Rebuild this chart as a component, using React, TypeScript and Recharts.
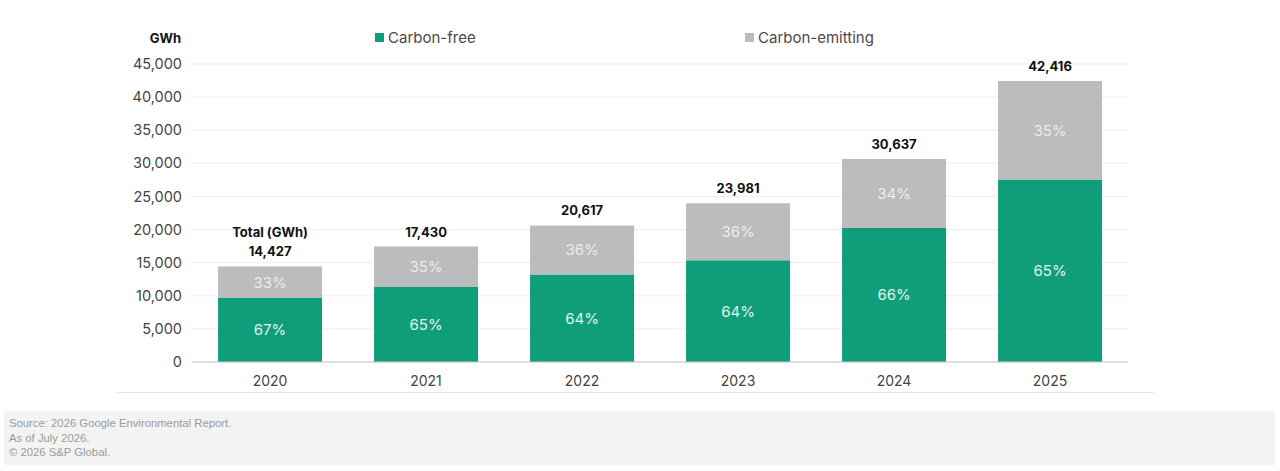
import React from 'react';
import { Bar, BarChart, CartesianGrid, Label, LabelList, Legend, XAxis, YAxis } from 'recharts';

// values (GWh)
const years = ['2020', '2021', '2022', '2023', '2024', '2025'];
const carbonFree = [9666, 11330, 13195, 15348, 20220, 27570];
const carbonEmitting = [4761, 6100, 7422, 8633, 10417, 14846];
const totals = [14427, 17430, 20617, 23981, 30637, 42416];
const freeShare = ['67%', '65%', '64%', '64%', '66%', '65%'];
const emitShare = ['33%', '35%', '36%', '36%', '34%', '35%'];
const yTicks = [0, 5000, 10000, 15000, 20000, 25000, 30000, 35000, 40000, 45000];
const sourceLines = ['Source: 2026 Google Environmental Report.', 'As of July 2026.', '\u00A9 2026 S&P Global.'];

const GREEN = '#0f9e79';
const GREY = '#bbbcbd';
const FONT = 'Inter, "Noto Sans", sans-serif';

const data = years.map((year, i) => ({
  year,
  free: carbonFree[i],
  emitting: carbonEmitting[i],
  total: totals[i],
  freePct: freeShare[i],
  emitPct: emitShare[i],
}));

const fmt = (v: number) => v.toLocaleString('en-US');

// total above each stacked bar, plus the "Total (GWh)" caption on the first one
const renderTotal = (props: any) => {
  const { x, y, width, value, index } = props;
  const cx = Number(x) + Number(width) / 2;
  return (
    <g>
      {index === 0 && (
        <text x={cx} y={Number(y) - 29} textAnchor="middle" fontSize={13} fontWeight={700} fill="#111" fontFamily={FONT}>
          Total (GWh)
        </text>
      )}
      <text x={cx} y={Number(y) - 10} textAnchor="middle" fontSize={13} fontWeight={700} fill="#111" fontFamily={FONT}>
        {fmt(Number(value))}
      </text>
    </g>
  );
};

// legend item order and left edge, by series key
const legendOrder = ['free', 'emitting'];
const legendPos = [375, 745];

const renderLegend = (props: any) => {
  const payload = [...(props.payload || [])].sort(
    (a: any, b: any) => legendOrder.indexOf(a.dataKey) - legendOrder.indexOf(b.dataKey)
  );
  return (
    <div style={{ position: 'relative', width: 1280, height: 20, fontFamily: FONT }}>
      {payload.map((entry: any, i: number) => (
        <div
          key={entry.value}
          style={{ position: 'absolute', left: legendPos[i], top: 0, display: 'flex', alignItems: 'center', fontSize: 15, color: '#4a4a4a' }}
        >
          <span style={{ display: 'inline-block', width: 9, height: 9, background: entry.color, marginRight: 4 }} />
          <span>{entry.value}</span>
        </div>
      ))}
    </div>
  );
};

const App: React.FC = () => {
  return (
    <div style={{ position: 'absolute', left: 0, top: 0, width: 1280, height: 471, background: '#fff' }}>
      <BarChart
        width={1280}
        height={400}
        data={data}
        margin={{ top: 64, right: 152, left: 0, bottom: 8 }}
        barCategoryGap="16.7%"
        style={{ fontFamily: FONT }}
      >
        <CartesianGrid vertical={false} stroke="#ededed" />
        <XAxis
          dataKey="year"
          axisLine={{ stroke: '#c9c9c9' }}
          tickLine={false}
          tickMargin={8}
          height={30}
          tick={{ fontSize: 14, fill: '#444', fontFamily: FONT }}
        />
        <YAxis
          width={192}
          domain={[0, 45000]}
          ticks={yTicks}
          axisLine={false}
          tickLine={false}
          tickMargin={4}
          tickFormatter={fmt}
          tick={{ fontSize: 14.5, fill: '#444', fontFamily: FONT }}
        >
          <Label
            content={() => (
              <text x={181} y={43} textAnchor="end" fontSize={13} fontWeight={700} fill="#111" fontFamily={FONT}>
                GWh
              </text>
            )}
          />
        </YAxis>
        <Legend
          layout="horizontal"
          verticalAlign="middle"
          align="center"
          wrapperStyle={{ top: 28, left: 0, width: 1280 }}
          content={renderLegend}
        />
        <Bar dataKey="free" name="Carbon-free" stackId="a" fill={GREEN} isAnimationActive={false}>
          <LabelList dataKey="freePct" position="center" fill="#e4f3ee" fontSize={15} fontFamily={FONT} />
        </Bar>
        <Bar dataKey="emitting" name="Carbon-emitting" stackId="a" fill={GREY} isAnimationActive={false}>
          <LabelList dataKey="emitPct" position="center" fill="#ececec" fontSize={15} fontFamily={FONT} />
          <LabelList dataKey="total" content={renderTotal} />
        </Bar>
      </BarChart>
      <div style={{ position: 'absolute', left: 117, top: 392, width: 1037, height: 1, background: '#e6e6e6' }} />
      <div
        style={{
          position: 'absolute',
          left: 4,
          top: 411,
          width: 1271,
          height: 54,
          background: '#f3f3f3',
          fontFamily: 'Arial, "Liberation Sans", sans-serif',
          fontSize: 11.3,
          lineHeight: '14.5px',
          color: '#9a9a9a',
          boxSizing: 'border-box',
          padding: '5px 0 0 5px',
        }}
      >
        {sourceLines.map((line) => (
          <div key={line}>{line}</div>
        ))}
      </div>
    </div>
  );
};

export default App;
